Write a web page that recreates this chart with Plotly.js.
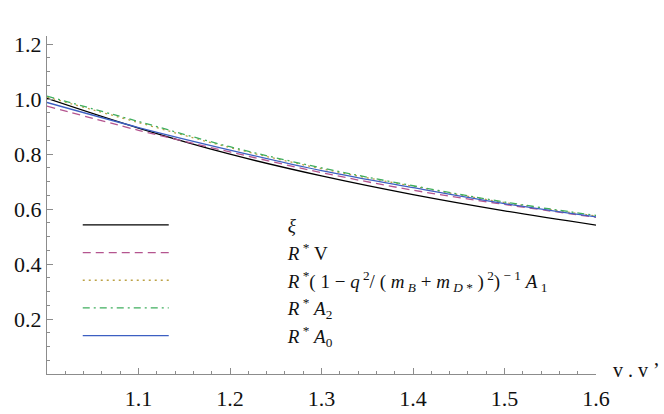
<!DOCTYPE html>
<html>
<head>
<meta charset="utf-8">
<script src="https://cdn.plot.ly/plotly-3.0.1.min.js"></script>
<style>
  html, body { margin: 0; padding: 0; background: #fff; }
  #chart { width: 664px; height: 414px; }
</style>
</head>
<body>
<div id="chart"></div>
<script>
// ── Data ──────────────────────────────────────────────────────────────────────
const w      = [1.0, 1.1, 1.2, 1.3, 1.4, 1.5, 1.6];
const xi     = [1.003, 0.895, 0.800, 0.721, 0.653, 0.594, 0.542];
const rV     = [0.975, 0.887, 0.808, 0.733, 0.669, 0.617, 0.570];
const rA1    = [1.008, 0.915, 0.824, 0.747, 0.683, 0.624, 0.575];
const rA2    = [1.011, 0.919, 0.827, 0.750, 0.685, 0.626, 0.577];
const rA0    = [0.988, 0.897, 0.815, 0.740, 0.678, 0.620, 0.572];

const xTicks = [1.1, 1.2, 1.3, 1.4, 1.5, 1.6];
const yTicks = [0.2, 0.4, 0.6, 0.8, 1.0, 1.2];

// em spaces push the legend text away from the sample lines
const GAP = '\u2003\u2003\u2003\u2003\u2003\u2003';
const S = '\u00a0';
const names = [
  '<i>ξ</i>',
  `<i>R</i><sup>${S}*</sup>${S}V`,
  `<i>R</i><sup>${S}*</sup>(${S}1${S}−${S}<i>q</i><sup>${S}2</sup>/${S}(${S}<i>m</i><sub>${S}<i>B</i></sub>${S}+${S}<i>m</i><sub>${S}<i>D</i>${S}*</sub>${S})<sup>${S}2</sup>)<sup>${S}−${S}1</sup>${S}<i>A</i><sub>${S}1</sub>`,
  `<i>R</i><sup>${S}*</sup>${S}<i>A</i><sub>2</sub>`,
  `<i>R</i><sup>${S}*</sup>${S}<i>A</i><sub>0</sub>`,
];

const SERIF = 'Liberation Serif, Times New Roman, serif';

// ── Traces ────────────────────────────────────────────────────────────────────
const series = [
  { y: xi,  color: '#000000', dash: 'solid' },
  { y: rV,  color: '#b4558f', dash: '8px,5px' },
  { y: rA1, color: '#bca246', dash: '2px,4px' },
  { y: rA2, color: '#3fae5e', dash: '7px,4px,2px,4px' },
  { y: rA0, color: '#3c5fc2', dash: 'solid' },
];

const traces = series.map((s, i) => ({
  x: w, y: s.y, name: GAP + names[i],
  type: 'scatter', mode: 'lines',
  line: { color: s.color, width: 1.3, dash: s.dash, shape: 'spline' },
  legendgroup: 'g' + i,
}));

const axisCommon = {
  showline: true, linecolor: '#8c8c8c', linewidth: 1,
  showgrid: false, zeroline: false,
  ticks: 'inside', ticklen: 6, tickcolor: '#8c8c8c', tickwidth: 1,
  tickfont: { family: SERIF, size: 22, color: '#111' },
};

Plotly.newPlot('chart', traces, {
  width: 664, height: 414,
  margin: { l: 47, r: 68, t: 36, b: 40 },
  paper_bgcolor: '#fff', plot_bgcolor: '#fff',
  showlegend: true,
  legend: {
    x: 0.056, y: 0.497, xanchor: 'left', yanchor: 'top',
    bgcolor: 'rgba(0,0,0,0)',
    font: { family: SERIF, size: 19, color: '#111' },
    itemwidth: 86, tracegroupgap: 0,
  },
  xaxis: {
    ...axisCommon,
    range: [1.0, 1.6],
    tickmode: 'array', tickvals: xTicks, ticktext: xTicks.map(v => v.toFixed(1)),
    ticklabelstandoff: 5,
    minor: { tickmode: 'linear', tick0: 1.0, dtick: 0.02, ticks: 'inside', ticklen: 3, tickcolor: '#8c8c8c' },
  },
  yaxis: {
    ...axisCommon,
    range: [0, 1.23],
    tickmode: 'array', tickvals: yTicks, ticktext: yTicks.map(v => v.toFixed(1)),
    minor: { tickmode: 'linear', tick0: 0, dtick: 0.05, ticks: 'inside', ticklen: 3, tickcolor: '#8c8c8c' },
  },
  annotations: [{
    xref: 'paper', yref: 'paper', x: 1, y: 0,
    xanchor: 'left', yanchor: 'middle', xshift: 15, yshift: 4,
    text: 'v . v ’', showarrow: false,
    font: { family: SERIF, size: 20, color: '#111' },
  }],
}, { displayModeBar: false, staticPlot: true });
</script>
</body>
</html>
